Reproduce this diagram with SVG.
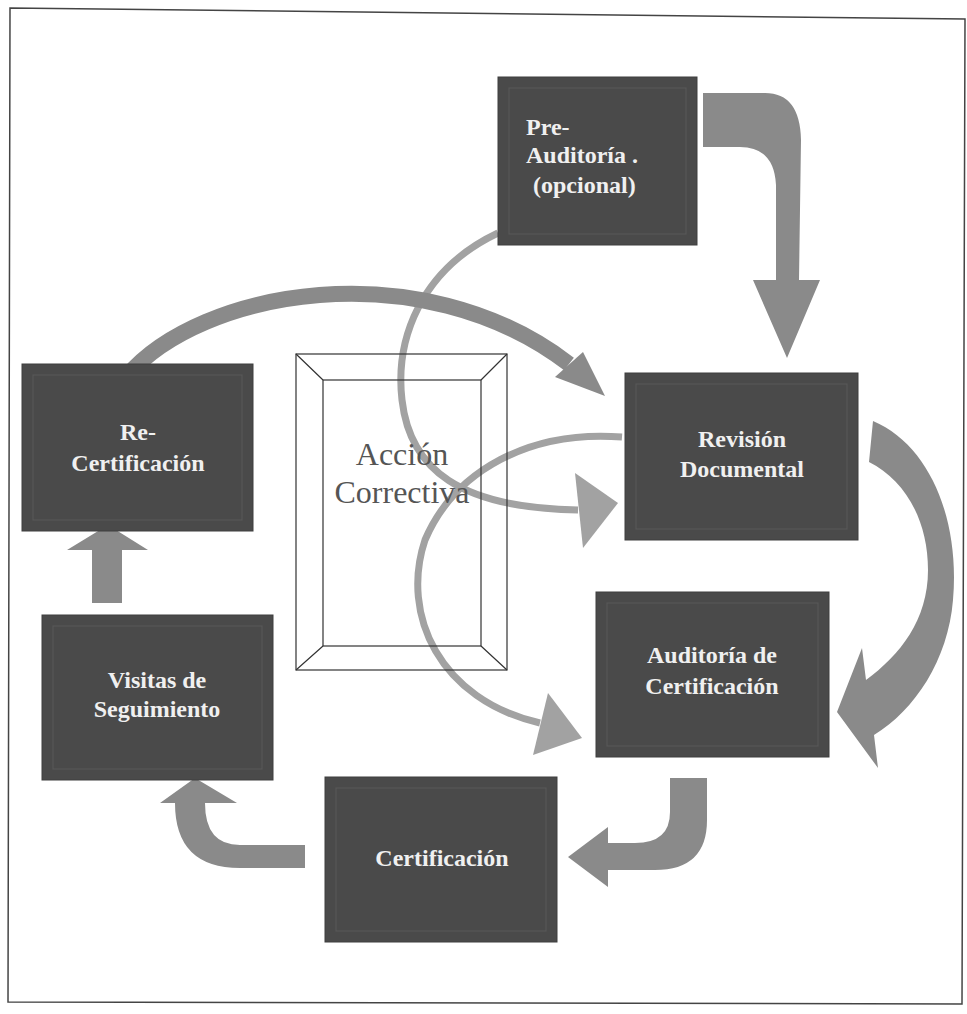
<svg xmlns="http://www.w3.org/2000/svg" width="967" height="1014" viewBox="0 0 967 1014">
<defs>
<style>
.box{fill:#4a4a4a;stroke:#3e3e3e;stroke-width:1}
.bev{fill:none;stroke:#575757;stroke-width:1.2}
.lbl{font-family:"Liberation Serif","Times New Roman",serif;font-weight:bold;font-size:24px;fill:#f0f0f0}
.thick{fill:#8a8a8a}
.thickS{fill:none;stroke:#8a8a8a;stroke-width:16}
.thin{fill:none;stroke:#a2a2a2;stroke-width:7}
.thinH{fill:#a2a2a2}
.frame{fill:none;stroke:#444;stroke-width:1.5}
</style>
</defs>
<rect width="967" height="1014" fill="#ffffff"/>
<polygon class="frame" points="10,8 965,19 962,1004 8,1002"/>

<g id="connectors">
  <!-- thin curved arrows -->
  <path class="thin" d="M498,233 C420,270 395,340 402,400 C410,470 460,508 578,510"/>
  <polygon class="thinH" points="575,473 618,503 583,548"/>
  <path class="thin" d="M622,437 C530,430 455,470 425,540 C400,615 440,700 540,723"/>
  <polygon class="thinH" points="548,693 582,738 533,755"/>
  <!-- Pre-Auditoria -> Revision -->
  <path class="thick" d="M703,93 L765,93 Q800,93 801,140 L799,280 L820,280 L787,358 L753,280 L776,280 L776,185 Q774,147 740,147 L703,147 Z"/>
  <!-- Revision -> Auditoria -->
  <path class="thick" d="M873,421 C930,445 960,520 953,600 C948,660 915,710 874,735 L878,768 L837,712 L862,648 L866,680 C900,655 928,620 928,570 C928,520 905,480 869,462 Z"/>
  <!-- Auditoria -> Certificacion -->
  <path class="thick" d="M670,778 L707,778 L707,820 Q707,870 655,870 L608,870 L608,887 L568,857 L608,827 L608,843 L635,843 Q670,843 670,812 Z"/>
  <!-- Certificacion -> Visitas -->
  <path class="thick" d="M305,845 L240,845 Q205,845 205,803 L237,803 L195,778 L160,803 L175,803 Q175,868 240,868 L305,868 Z"/>
  <!-- Visitas -> Re-Certificacion -->
  <polygon class="thick" points="92,603 122,603 122,550 148,550 108,525 67,550 92,550"/>
  <!-- Re-Certificacion -> Revision -->
  <path class="thickS" d="M127,376 C200,290 420,250 569,364"/>
  <polygon class="thick" points="583,352 605,396 555,377"/>
</g>

<g id="accion-correctiva">
  <rect x="296" y="354" width="211" height="316" fill="none" stroke="#333" stroke-width="1.2"/>
  <rect x="323" y="380" width="158" height="266" fill="none" stroke="#333" stroke-width="1.2"/>
  <path d="M296,354 L323,380 M507,354 L481,380 M296,670 L323,646 M507,670 L481,646" stroke="#333" stroke-width="1.2"/>
  <text x="402" y="465" text-anchor="middle" font-family="Liberation Serif, Times New Roman, serif" font-size="32" fill="#555">Acción</text>
  <text x="402" y="503" text-anchor="middle" font-family="Liberation Serif, Times New Roman, serif" font-size="32" fill="#555">Correctiva</text>
</g>

<g id="pre-auditoria">
  <rect class="box" x="498" y="77" width="199" height="168"/>
  <rect class="bev" x="509" y="88" width="177" height="146"/>
  <text class="lbl" x="526" y="135">Pre-</text>
  <text class="lbl" x="526" y="163">Auditoría .</text>
  <text class="lbl" x="533" y="193">(opcional)</text>
</g>

<g id="revision-documental">
  <rect class="box" x="625" y="373" width="233" height="167"/>
  <rect class="bev" x="636" y="384" width="211" height="145"/>
  <text class="lbl" x="742" y="447" text-anchor="middle">Revisión</text>
  <text class="lbl" x="742" y="477" text-anchor="middle">Documental</text>
</g>

<g id="auditoria-certificacion">
  <rect class="box" x="596" y="592" width="233" height="165"/>
  <rect class="bev" x="607" y="603" width="211" height="143"/>
  <text class="lbl" x="712" y="663" text-anchor="middle">Auditoría de</text>
  <text class="lbl" x="712" y="694" text-anchor="middle">Certificación</text>
</g>

<g id="certificacion">
  <rect class="box" x="325" y="777" width="232" height="165"/>
  <rect class="bev" x="336" y="788" width="210" height="143"/>
  <text class="lbl" x="442" y="866" text-anchor="middle">Certificación</text>
</g>

<g id="visitas-seguimiento">
  <rect class="box" x="42" y="615" width="231" height="165"/>
  <rect class="bev" x="53" y="626" width="209" height="143"/>
  <text class="lbl" x="157" y="688" text-anchor="middle">Visitas de</text>
  <text class="lbl" x="157" y="717" text-anchor="middle">Seguimiento</text>
</g>

<g id="re-certificacion">
  <rect class="box" x="22" y="364" width="231" height="167"/>
  <rect class="bev" x="33" y="375" width="209" height="145"/>
  <text class="lbl" x="138" y="440" text-anchor="middle">Re-</text>
  <text class="lbl" x="138" y="471" text-anchor="middle">Certificación</text>
</g>
</svg>
